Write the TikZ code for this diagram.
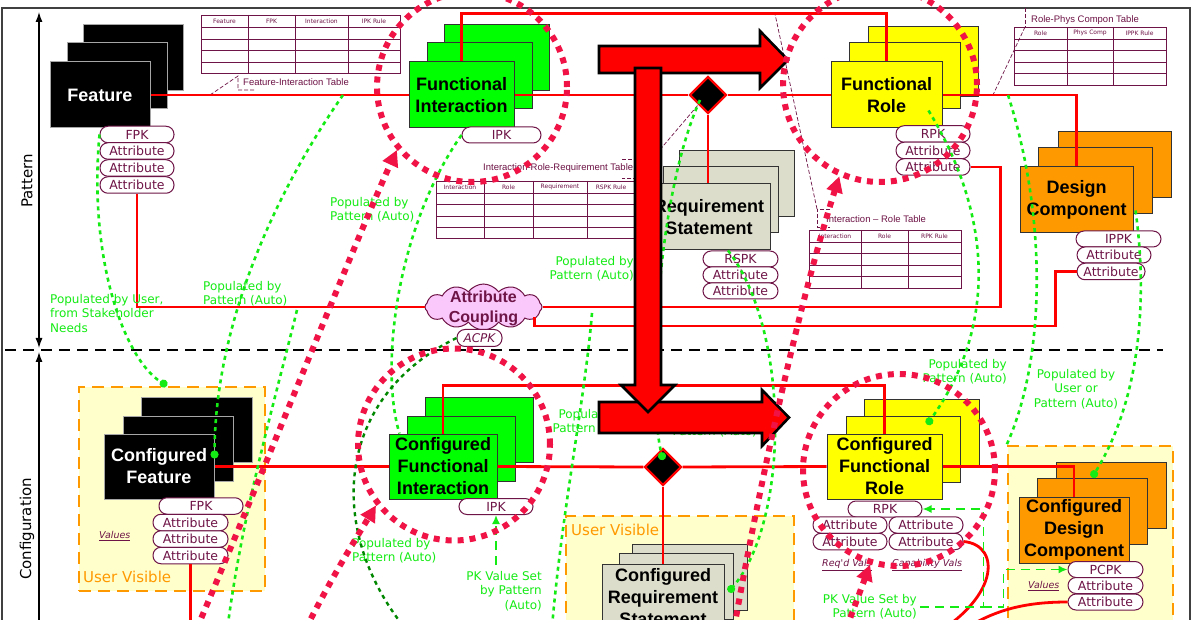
\documentclass[tikz,border=0pt]{standalone}
\usepackage{fontspec}
\setmainfont{Liberation Sans}
\newfontfamily\comic{DejaVu Sans}
\usetikzlibrary{shapes.geometric,shapes.symbols,arrows.meta}
\pgfdeclarelayer{bglayer}
\pgfdeclarelayer{nodelayer}
\pgfdeclarelayer{edgelayer}
\pgfsetlayers{bglayer,nodelayer,edgelayer,main}
\definecolor{plum}{RGB}{110,20,70}
\definecolor{leaf}{RGB}{0,255,0}
\definecolor{lemon}{RGB}{255,255,0}
\definecolor{amber}{RGB}{255,153,0}
\definecolor{stone}{RGB}{221,221,204}
\definecolor{blush}{RGB}{250,200,250}
\definecolor{cream}{RGB}{255,255,204}
\definecolor{popgreen}{RGB}{20,235,20}
\definecolor{darkpop}{RGB}{0,135,0}
\definecolor{ringred}{RGB}{240,20,70}
\tikzstyle{stackbox}=[rectangle, draw=black!80, line width=1pt, inner sep=0pt, minimum height=66pt, align=center, font=\bfseries\fontsize{18}{22}\selectfont]
\tikzstyle{featbox}=[stackbox, fill=black, draw=black!35, text=white]
\tikzstyle{fibox}=[stackbox, fill=leaf]
\tikzstyle{rolebox}=[stackbox, fill=lemon]
\tikzstyle{dcbox}=[stackbox, fill=amber]
\tikzstyle{reqbox}=[stackbox, fill=stone]
\tikzstyle{pill}=[rectangle, rounded corners=8pt, draw=plum, fill=white, line width=1pt, inner sep=0pt, minimum height=16.5pt, text=plum, font=\comic\fontsize{12.5}{12.5}\selectfont]
\tikzstyle{gatebox}=[diamond, draw=red, fill=black, line width=2.2pt, minimum size=37pt, inner sep=0pt]
\tikzstyle{cloudbox}=[cloud, cloud puffs=12, cloud puff arc=110, cloud ignores aspect, draw=plum, fill=blush, line width=1pt, inner sep=0pt, minimum width=117pt, minimum height=46pt]
\tikzstyle{uvbox}=[rectangle, draw=amber, fill=cream, line width=2.6pt, dash pattern=on 12pt off 7pt, inner sep=0pt]
\tikzstyle{redlink}=[draw=red, line width=2.8pt]
\tikzstyle{popline}=[draw=popgreen, line width=2.6pt, dash pattern=on 4pt off 4pt]
\tikzstyle{blobline}=[popline, -{Circle[length=8pt]}, fill=none]
\tikzstyle{darkline}=[draw=darkpop, line width=2.4pt, dash pattern=on 4pt off 4pt]
\tikzstyle{pkline}=[draw=popgreen, line width=1.6pt, dash pattern=on 9pt off 6pt, -{Latex[length=9pt,width=8pt]}]
\tikzstyle{dotring}=[circle, draw=ringred, line width=6pt, dash pattern=on 6pt off 6pt, inner sep=0pt]
\tikzstyle{ringline}=[draw=ringred, line width=6pt, dash pattern=on 6pt off 6pt, -{Triangle[length=16pt,width=16pt]}]
\tikzstyle{bigarrow}=[fill=red, draw=black, line width=2.6pt]
\tikzstyle{tablegrid}=[draw=plum, line width=0.9pt]
\tikzstyle{thead}=[text=plum, font=\comic\fontsize{6}{6}\selectfont, inner sep=0pt]
\tikzstyle{tcap}=[text=plum, font=\fontsize{9.5}{10}\selectfont, inner sep=0pt, anchor=west]
\tikzstyle{calloutline}=[draw=plum, line width=0.7pt, dash pattern=on 4pt off 2pt]
\tikzstyle{poptext}=[text=popgreen, font=\comic\fontsize{12}{14.5}\selectfont, inner sep=0pt]
\tikzstyle{valtext}=[text=plum, font=\comic\itshape\fontsize{9.5}{10}\selectfont, inner sep=0pt, anchor=west]
\tikzstyle{uvtext}=[text=amber, font=\comic\fontsize{15}{15}\selectfont, inner sep=0pt, anchor=west]
\tikzstyle{sidetext}=[rotate=90, font=\comic\fontsize{15}{15}\selectfont, inner sep=0pt]
\tikzstyle{axisline}=[draw=black, line width=1.2pt, {Latex[length=10pt,width=7pt]}-{Latex[length=10pt,width=7pt]}]

\begin{document}
\begin{tikzpicture}[x=1pt, y=-1pt]
	\useasboundingbox (0,0) rectangle (1192,620);
	\begin{pgfonlayer}{bglayer}
		\fill [white] (0,0) rectangle (1192,620);
		\draw [draw=black!75, line width=1.6pt] (2,8) rectangle (1190,660);
		\draw [draw=black, line width=1.8pt, dash pattern=on 11pt off 7pt] (5,350) -- (1163,350);
		\coordinate (axtop) at (39,12);
		\coordinate (axmid) at (39,348);
		\coordinate (axlow) at (39,352);
		\coordinate (axend) at (39,680);
		\draw [style=axisline] (axmid) -- (axtop);
		\draw [style=axisline] (axend) -- (axlow);
		\node [style=sidetext] (pattxt) at (27,181) {Pattern};
		\node [style=sidetext] (conftxt) at (27,529) {Configuration};
		\node [style=uvbox, minimum width=186pt, minimum height=204pt] (uvfeat) at (172,489) {};
		\node [style=uvbox, minimum width=228pt, minimum height=124pt] (uvreq) at (680,578) {};
		\node [style=uvbox, minimum width=165pt, minimum height=194pt] (uvdc) at (1090.5,543) {};
		\node [style=uvtext] (uvtxt1) at (83,577) {User Visible};
		\node [style=uvtext] (uvtxt2) at (571,530) {User Visible};
	\end{pgfonlayer}
	\begin{pgfonlayer}{nodelayer}
		\draw [style=tablegrid] (201,15) rectangle (400,73);
		\foreach \x in {248,295,348} \draw [style=tablegrid] (\x,15) -- (\x,73);
		\foreach \y in {27,39,50,62} \draw [style=tablegrid] (201,\y) -- (400,\y);
		\node [style=thead] (fih1) at (224.5,21) {Feature};
		\node [style=thead] (fih2) at (271.5,21) {FPK};
		\node [style=thead] (fih3) at (321.5,21) {Interaction};
		\node [style=thead] (fih4) at (374,21) {IPK Rule};
		\node [style=tcap] (ficap) at (243,82) {Feature-Interaction Table};
		\coordinate (fitip) at (210,95);
		\draw [style=calloutline] (fitip) -- ([shift={(-5,-6)}]ficap.west) |- ([shift={(12,8)}]ficap.west);

		\draw [style=tablegrid] (436,181) rectangle (640,238);
		\foreach \x in {484,533,587} \draw [style=tablegrid] (\x,181) -- (\x,238);
		\foreach \y in {193,204,216,227} \draw [style=tablegrid] (436,\y) -- (640,\y);
		\node [style=thead] (irh1) at (460,187) {Interaction};
		\node [style=thead] (irh2) at (508.5,187) {Role};
		\node [style=thead] (irh3) at (560,187) {Requirement};
		\node [style=thead] (irh4) at (611,187) {RSPK Rule};
		\node [style=tcap] (irrcap) at (483,168) {Interaction-Role-Requirement Table};

		\draw [style=tablegrid] (1014,27) rectangle (1166,85);
		\foreach \x in {1067,1113} \draw [style=tablegrid] (\x,27) -- (\x,85);
		\foreach \y in {39,50,62,73} \draw [style=tablegrid] (1014,\y) -- (1166,\y);
		\node [style=thead] (rph1) at (1040.5,33) {Role};
		\node [style=thead] (rph2) at (1090,33) {Phys Comp};
		\node [style=thead] (rph3) at (1139.5,33) {IPPK Rule};
		\node [style=tcap] (rpcap) at (1031,20) {Role-Phys Compon Table};
		\coordinate (rptip) at (993,95);
		\draw [style=calloutline] ([shift={(-6,-12)}]rpcap.west) |- ([shift={(9,7)}]rpcap.west);
		\draw [style=calloutline] ([shift={(-6,7)}]rpcap.west) -- (rptip);

		\draw [style=tablegrid] (809,230) rectangle (961,288);
		\foreach \x in {861,908} \draw [style=tablegrid] (\x,230) -- (\x,288);
		\foreach \y in {242,253,265,276} \draw [style=tablegrid] (809,\y) -- (961,\y);
		\node [style=thead] (i2h1) at (835,236) {Interaction};
		\node [style=thead] (i2h2) at (884.5,236) {Role};
		\node [style=thead] (i2h3) at (934.5,236) {RPK Rule};
		\node [style=tcap] (ircap) at (826,219) {Interaction -- Role Table};
		\coordinate (irtip) at (775,14);
		\draw [style=calloutline] ([shift={(4,-10)}]ircap.west) -| ([shift={(-9,8)}]ircap.west) -- ([shift={(4,8)}]ircap.west);
		\draw [style=calloutline] ([shift={(-9,-10)}]ircap.west) -- (irtip);

		\node [style=featbox, minimum width=100pt] (feat3) at (133,58) {};
		\node [style=featbox, minimum width=100pt] (feat2) at (117,76) {};
		\node [style=featbox, minimum width=100pt] (feat) at (100,95) {Feature};
		\node [style=pill, minimum width=74pt] (fpk) at (137,134.5) {FPK};
		\node [style=pill, minimum width=74pt] (fa1) at (137,151) {Attribute};
		\node [style=pill, minimum width=74pt] (fa2) at (137,168) {Attribute};
		\node [style=pill, minimum width=74pt] (fa3) at (137,185) {Attribute};

		\node [style=fibox, minimum width=105pt] (fi3) at (497,58) {};
		\node [style=fibox, minimum width=105pt] (fi2) at (480,76) {};
		\node [style=fibox, minimum width=105pt] (fi) at (461.5,95) {Functional\\Interaction};
		\node [style=pill, minimum width=79pt, minimum height=16pt] (ipk) at (501.5,135) {IPK};

		\node [style=rolebox, minimum width=110pt, minimum height=70pt] (fr3) at (923,62) {};
		\node [style=rolebox, minimum width=111pt] (fr2) at (904.5,76) {};
		\node [style=rolebox, minimum width=111pt] (fr) at (886.5,95) {Functional\\Role};
		\node [style=pill, minimum width=74pt] (rpk) at (933,134) {RPK};
		\node [style=pill, minimum width=74pt] (ra1) at (933,150.5) {Attribute};
		\node [style=pill, minimum width=74pt] (ra2) at (933,167) {Attribute};

		\node [style=dcbox, minimum width=113pt] (dc3) at (1114.5,164.5) {};
		\node [style=dcbox, minimum width=114pt] (dc2) at (1095,181) {};
		\node [style=dcbox, minimum width=113pt] (dc) at (1076.5,200) {Design\\Component};
		\node [style=pill, minimum width=85pt, minimum height=16pt] (ippk) at (1118.5,239) {IPPK};
		\node [style=pill, minimum width=74pt, minimum height=16pt] (dca1) at (1114,255) {Attribute};
		\node [style=pill, minimum width=68pt] (dca2) at (1111,271.5) {Attribute};

		\node [style=reqbox, minimum width=115pt] (req3) at (737,184) {};
		\node [style=reqbox, minimum width=115pt] (req2) at (721,200) {};
		\node [style=reqbox, minimum width=122pt] (req) at (709,217) {Requirement\\Statement};
		\node [style=pill, minimum width=75pt, minimum height=16pt] (rspk) at (740.5,259) {RSPK};
		\node [style=pill, minimum width=75pt, minimum height=16pt] (rqa1) at (740.5,275) {Attribute};
		\node [style=pill, minimum width=75pt, minimum height=16pt] (rqa2) at (740.5,291) {Attribute};

		\node [style=gatebox] (gate1) at (708,95) {};
		\node [style=gatebox] (gate2) at (663,467) {};

		\node [style=cloudbox] (cloud) at (483.5,307) {};
		\node [text=plum, align=center, inner sep=0pt, font=\bfseries\fontsize{16}{20}\selectfont] (cloudtxt) at (483.5,308) {Attribute\\Coupling};
		\node [style=pill, minimum width=45pt, minimum height=17pt, font=\comic\itshape\fontsize{12}{12}\selectfont] (acpk) at (479.5,338) {ACPK};

		\draw [style=calloutline] ([shift={(-11,-9)}]irrcap.east) -- ([shift={(11,-9)}]irrcap.east) -- ([shift={(11,10)}]irrcap.east) -- ([shift={(-11,10)}]irrcap.east);
		\draw [style=calloutline] ([shift={(11,0)}]irrcap.east) -- (gate1.south west);

		\node [style=featbox, minimum width=111pt, minimum height=65pt] (cf3) at (196.5,430) {};
		\node [style=featbox, minimum width=110pt, minimum height=65pt] (cf2) at (178,448.5) {};
		\node [style=featbox, minimum width=110pt, minimum height=65pt] (cf) at (159,466.5) {Configured\\Feature};
		\node [style=pill, minimum width=84pt] (cfpk) at (201,506) {FPK};
		\node [style=pill, minimum width=75pt] (cfa1) at (190.5,522.5) {Attribute};
		\node [style=pill, minimum width=75pt] (cfa2) at (190.5,539) {Attribute};
		\node [style=pill, minimum width=75pt] (cfa3) at (190.5,555.5) {Attribute};
		\node [style=valtext] (fval) at (99,536) {\underline{Values}};

		\node [style=fibox, minimum width=108pt, minimum height=65pt] (cfi3) at (479,430) {};
		\node [style=fibox, minimum width=108pt, minimum height=65pt] (cfi2) at (461,448.5) {};
		\node [style=fibox, minimum width=108pt, minimum height=65pt] (cfi) at (443,466.5) {Configured\\Functional\\Interaction};
		\node [style=pill, minimum width=74pt, minimum height=16pt] (cipk) at (496,506.5) {IPK};

		\node [style=reqbox, minimum width=115pt] (crs3) at (689.5,577) {};
		\node [style=reqbox, minimum width=114pt] (crs2) at (676,586) {};
		\node [style=reqbox, minimum width=122pt] (crs) at (663,597) {Configured\\Requirement\\Statement};

		\node [style=rolebox, minimum width=115pt, minimum height=67pt] (cfr3) at (921.5,432.5) {};
		\node [style=rolebox, minimum width=114pt] (cfr2) at (903,449) {};
		\node [style=rolebox, minimum width=115pt, minimum height=65pt] (cfr) at (884.5,466.5) {Configured\\Functional\\Role};
		\node [style=pill, minimum width=74pt, minimum height=16pt] (crpk) at (885,509) {RPK};
		\node [style=pill, minimum width=74pt] (cra1) at (850,525) {Attribute};
		\node [style=pill, minimum width=74pt] (cra2) at (850,541.5) {Attribute};
		\node [style=pill, minimum width=74pt] (crb1) at (926,525) {Attribute};
		\node [style=pill, minimum width=74pt] (crb2) at (926,541.5) {Attribute};
		\node [style=valtext] (reqval) at (822,565) {\underline{Req'd Vals}};
		\node [style=valtext] (capval) at (892,565) {\underline{Capability Vals}};

		\node [style=dcbox, minimum width=110pt] (cdc3) at (1111,495) {};
		\node [style=dcbox, minimum width=110pt] (cdc2) at (1092,511) {};
		\node [style=dcbox, minimum width=110pt] (cdc) at (1074,530) {Configured\\Design\\Component};
		\node [style=pill, minimum width=75pt, minimum height=16pt] (pcpk) at (1105.5,569.5) {PCPK};
		\node [style=pill, minimum width=75pt, minimum height=16pt] (cda1) at (1105.5,585.5) {Attribute};
		\node [style=pill, minimum width=75pt, minimum height=16pt] (cda2) at (1105.5,602) {Attribute};
		\node [style=valtext] (dcval) at (1028,586) {\underline{Values}};
	\end{pgfonlayer}
	\begin{pgfonlayer}{edgelayer}
		\draw [style=redlink] (feat.east) -- (fi.west);
		\draw [style=redlink] (fi.east) -- (gate1.west);
		\draw [style=redlink] (gate1.east) -- (fr.west);
		\draw [style=redlink] (fr.east) -| (dc.north);
		\draw [style=redlink] (fi.north) -- ++(0,-48) -| (fr.north);
		\draw [style=redlink] (gate1.south) -- (gate1.south |- req.north);
		\draw [style=redlink] (fa3.south) |- (cloud.west);
		\draw [style=redlink] (cloud.east) -| ([xshift=30pt]ra2.east) -- (ra2.east);
		\draw [style=redlink] ([shift={(-8,10)}]cloud.east) -- ++(0,9) -| ([xshift=-21pt]dca2.west) -- (dca2.west);
		\draw [style=redlink] (cf.east) -- (cfi.west);
		\draw [style=redlink] (cfi.east) -- (gate2.west);
		\draw [style=redlink] (gate2.east) -- (cfr.west);
		\draw [style=redlink] (cfr.east) -| (cdc.north);
		\draw [style=redlink] (cfi.north) -- ++(0,-48) -| (cfr.north);
		\draw [style=redlink] (gate2.south) -- (crs.north);
		\coordinate (cut0) at (190.5,660);
		\coordinate (cut1) at (925,640);
		\coordinate (cut2) at (950,640);
		\draw [style=redlink] (cfa3.south) -- (cut0);
		\draw [style=redlink] (crb2.east) .. controls (1002,545) and (1000,600) .. (cut1);
		\draw [style=redlink] (cda2.west) .. controls (1020,602) and (985,612) .. (cut2);
	\end{pgfonlayer}

	\node [style=poptext, align=left, anchor=north west] (lbl1) at (50,294) {Populated by User,\\from Stakeholder\\Needs};
	\node [style=poptext, align=left, anchor=north west] (lbl2) at (203,281) {Populated by\\Pattern (Auto)};
	\node [style=poptext, align=left, anchor=north west] (lbl3) at (330,197) {Populated by\\Pattern (Auto)};
	\node [style=poptext, align=right, anchor=north east] (lbl4) at (634,256) {Populated by\\Pattern (Auto)};
	\node [style=poptext, align=right, anchor=north east] (lbl5) at (637,409) {Populated by\\Pattern (Auto)};
	\node [style=poptext, align=right, anchor=north east] (lbl6) at (757,412) {Populated by\\Pattern (Auto)};
	\node [style=poptext, align=right, anchor=north east] (lbl7) at (1007,359) {Populated by\\Pattern (Auto)};
	\node [style=poptext, align=center, anchor=north] (lbl8) at (1076,369) {Populated by\\User or\\Pattern (Auto)};
	\node [style=poptext, align=left, anchor=north west] (lbl9) at (352,538) {Populated by\\Pattern (Auto)};
	\node [style=poptext, align=right, anchor=north east] (lbl10) at (542,571) {PK Value Set\\by Pattern\\(Auto)};
	\node [style=poptext, align=right, anchor=north east] (lbl11) at (917,594) {PK Value Set by\\Pattern (Auto)};

	\coordinate (g2) at (343,95);
	\coordinate (g3) at (297,310);
	\coordinate (g3end) at (226,640);
	\coordinate (g6) at (592,313);
	\coordinate (g6end) at (551,640);
	\coordinate (g10) at (1008,95);
	\coordinate (dkend) at (415,640);
	\draw [style=blobline] (fpk.west) .. controls (88,260) and (125,360) .. ([xshift=-5pt]uvfeat.north);
	\draw [style=blobline] (g2) .. controls (270,200) and (215,330) .. ([yshift=8pt]cf.east);
	\draw [style=popline] (g3) .. controls (275,400) and (240,520) .. (g3end);
	\draw [style=popline] (ipk.west) .. controls (395,230) and (380,370) .. ([xshift=11pt]cfi.north west);
	\draw [style=popline] (g6) .. controls (585,400) and (560,520) .. (g6end);
	\draw [style=blobline] ([shift={(-8,5)}]gate1.center) .. controls (655,200) and (648,400) .. ([yshift=7pt]gate2.center);
	\draw [style=blobline] ([xshift=19pt]req.south) .. controls (790,330) and (790,520) .. ([xshift=4pt,yshift=5pt]crs.east);
	\draw [style=blobline] ([shift={(-14,-18)}]fr.south east) .. controls (995,220) and (995,330) .. ([shift={(24,9)}]cfr2.north);
	\draw [style=popline] (g10) .. controls (1048,220) and (1045,360) .. (uvdc.north west);
	\draw [style=blobline] ([shift={(2,-23)}]dc.south east) .. controls (1148,300) and (1140,400) .. (cdc2.north);
	\draw [style=darkline] (acpk.west) .. controls (330,400) and (325,540) .. (dkend);

	\coordinate (pk1) at (496,565);
	\coordinate (pk2) at (920,607);
	\coordinate (pk3) at (983,607);
	\draw [style=pkline] (pk1) -- (cipk.south);
	\draw [style=pkline] (pk2) -| ([xshift=61pt]crpk.east) -- (crpk.east);
	\draw [style=pkline] (pk3) -| ([xshift=-64pt]pcpk.west) -- (pcpk.west);

	\draw [style=bigarrow] (599,46) -- (760,46) -- (760,31) -- (788,60) -- (760,88) -- (760,73) -- (599,73) -- cycle;
	\draw [style=bigarrow] (599,402) -- (762,402) -- (762,390) -- (789,417.5) -- (762,446) -- (762,433) -- (599,433) -- cycle;
	\draw [style=bigarrow] (635,68) -- (661,68) -- (661,385) -- (675,385) -- (648,412) -- (621,385) -- (635,385) -- cycle;

	\node [style=dotring, minimum size=190pt] (ringfi) at (472,87) {};
	\node [style=dotring, minimum size=194pt] (ringfr) at (880,85) {};
	\node [style=dotring, minimum size=192pt] (ringcfi) at (454,444.5) {};
	\node [style=dotring, minimum size=192pt] (ringcfr) at (899,470) {};
	\coordinate (ra) at (192,640);
	\coordinate (rb) at (300,640);
	\coordinate (rc) at (732,640);
	\coordinate (re) at (842,640);
	\draw [style=ringline] (ra) .. controls (260,480) and (360,230) .. (ringfi.220);
	\draw [style=ringline] (rb) .. controls (330,580) and (355,540) .. (ringcfi.218);
	\draw [style=ringline] (rc) .. controls (760,480) and (800,300) .. (ringfr.246);
	\draw [style=ringline] (re) -- (ringcfr.253);
\end{tikzpicture}
\end{document}
